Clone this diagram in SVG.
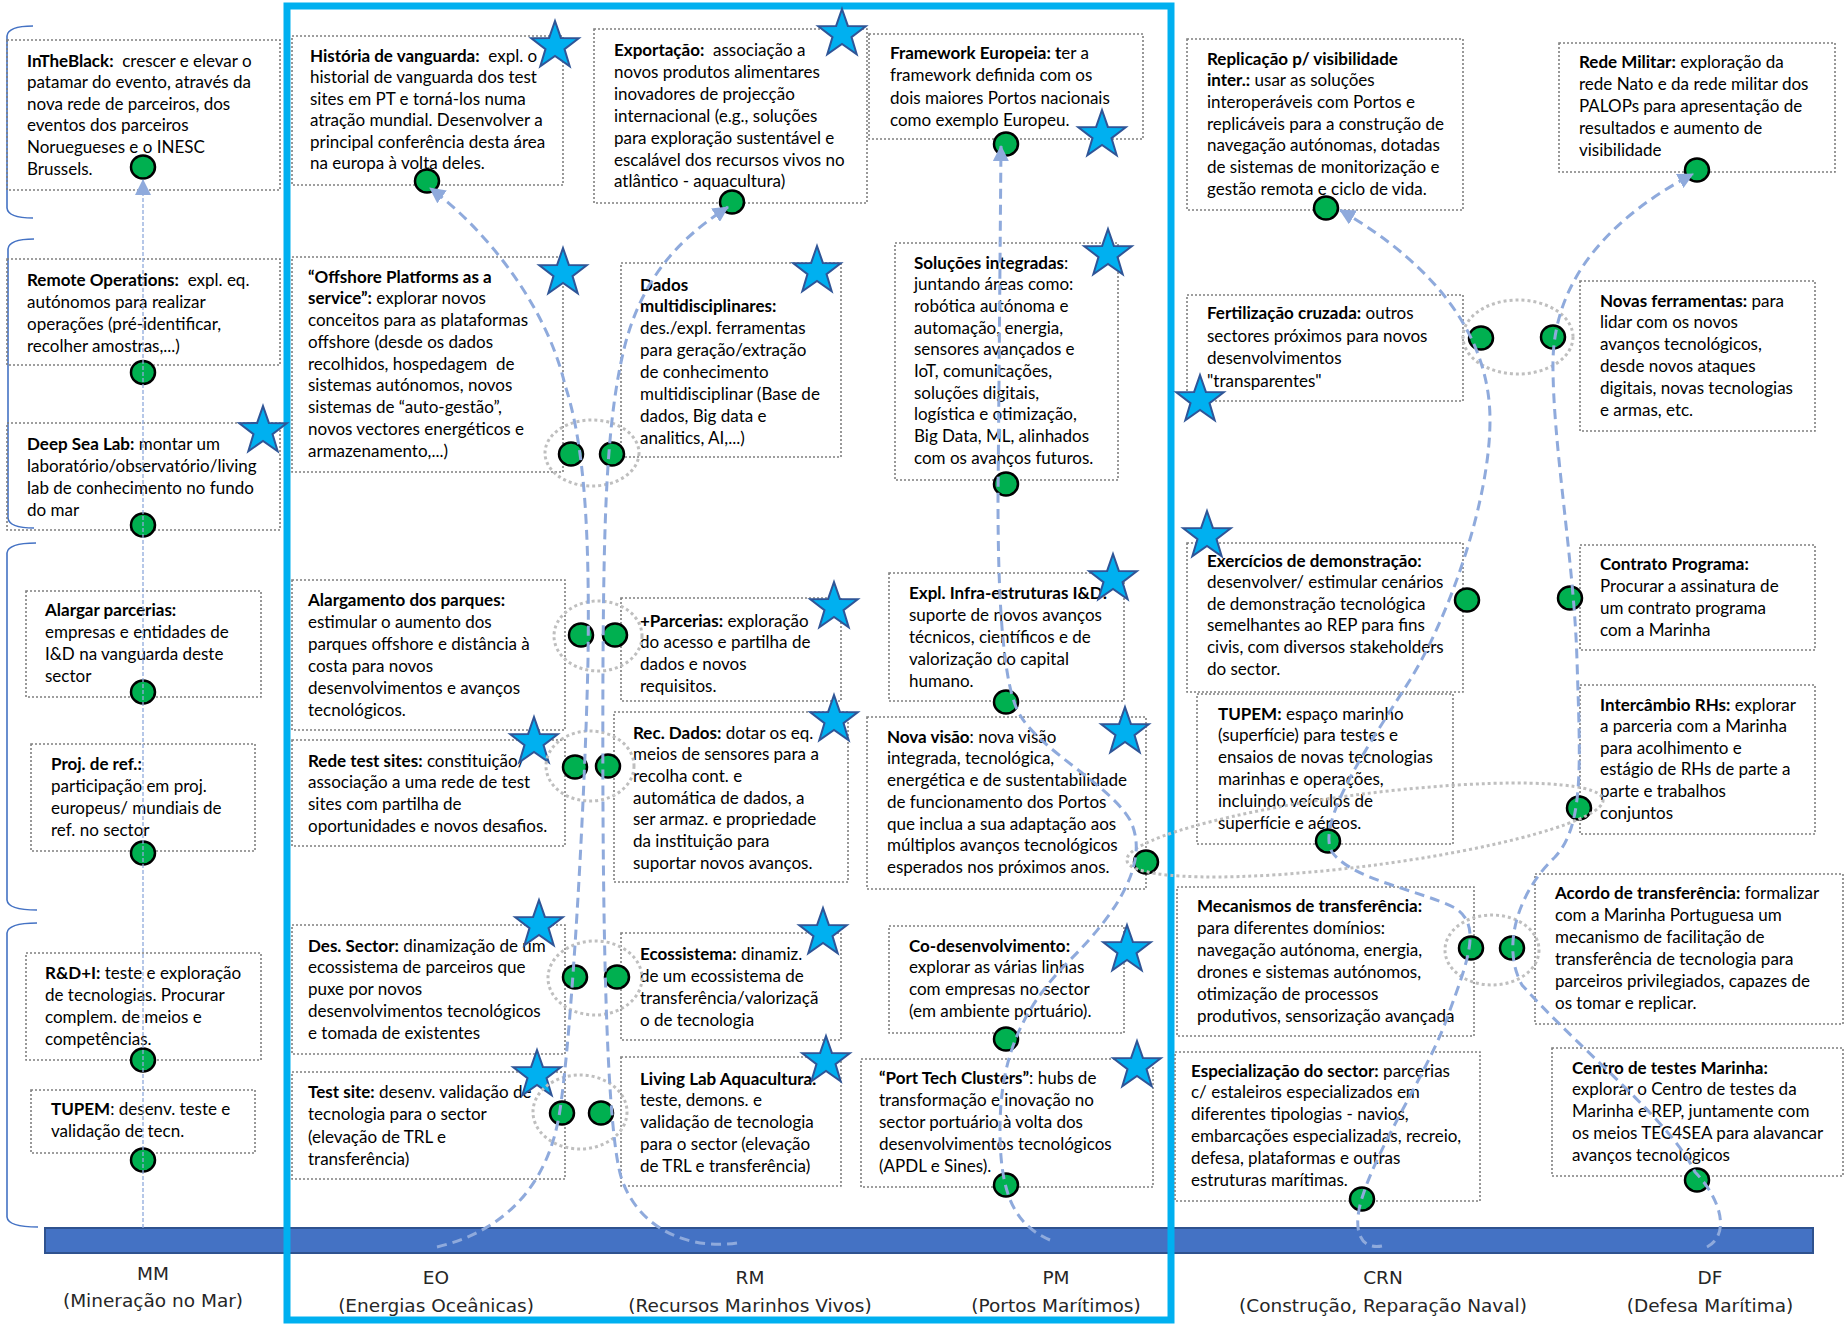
<svg xmlns="http://www.w3.org/2000/svg" xmlns:xlink="http://www.w3.org/1999/xlink" width="1845" height="1324" viewBox="0 0 1845 1324">
<style>
.box{fill:none;stroke:#7F7F7F;stroke-width:1.6;stroke-dasharray:2 2}
.t{font-family:Lato,"Liberation Sans",sans-serif;font-size:17px;fill:#000}
.b{font-weight:700}
.dot{fill:#00B050;stroke:#000;stroke-width:2.5}
.star{fill:#00B0F0;stroke:#2F5597;stroke-width:2}
.grp{fill:none;stroke:#BFBFBF;stroke-width:3;stroke-dasharray:3 3}
.conn{fill:none;stroke:#8FAADC;stroke-width:3;stroke-dasharray:10 6}
.thin{fill:none;stroke:#8FAADC;stroke-width:1.3;stroke-dasharray:4 2}
.brk{fill:none;stroke:#4472C4;stroke-width:1.6}
.lbl{font-family:"DejaVu Sans",Verdana,sans-serif;font-size:18.5px;fill:#262626;text-anchor:middle}
</style>
<defs>
<path id="star" d="M0,-25 L5.88,-8.09 L23.78,-7.73 L9.51,3.09 L14.69,20.23 L0,10 L-14.69,20.23 L-9.51,3.09 L-23.78,-7.73 L-5.88,-8.09 Z"/>
<marker id="arr" markerUnits="userSpaceOnUse" viewBox="0 0 16 16" refX="15" refY="8" markerWidth="16" markerHeight="16" orient="auto">
<path d="M0,0 L16,8 L0,16 Z" fill="#8FAADC"/>
</marker>
</defs>
<rect width="1845" height="1324" fill="#fff"/>

<!-- base bar and frame -->
<g id="base">
<rect x="45" y="1228" width="1768" height="25" fill="#4472C4" stroke="#2F528F" stroke-width="2"/>
<rect x="287" y="6" width="884" height="1314" fill="none" stroke="#00B0F0" stroke-width="7"/>
<path class="brk" d="M33,26 Q8,26 7,36 L7,208 Q8,218 33,218"/>
<path class="brk" d="M34,239 Q9,239 8,249 L8,518 Q9,528 34,528"/>
<path class="brk" d="M36,543 Q8,543 7,553 L7,900 Q8,910 37,910"/>
<path class="brk" d="M37,923 Q8,923 7,933 L7,1217 Q8,1227 38,1227"/>
</g>

<!-- sector labels -->
<g id="labels">
<text class="lbl" x="153" y="1280">MM</text><text class="lbl" x="153" y="1307">(Mineração no Mar)</text>
<text class="lbl" x="436" y="1284">EO</text><text class="lbl" x="436" y="1312">(Energias Oceânicas)</text>
<text class="lbl" x="750" y="1284">RM</text><text class="lbl" x="750" y="1312">(Recursos Marinhos Vivos)</text>
<text class="lbl" x="1056" y="1284">PM</text><text class="lbl" x="1056" y="1312">(Portos Marítimos)</text>
<text class="lbl" x="1383" y="1284">CRN</text><text class="lbl" x="1383" y="1312">(Construção, Reparação Naval)</text>
<text class="lbl" x="1710" y="1284">DF</text><text class="lbl" x="1710" y="1312">(Defesa Marítima)</text>
</g>

<!-- MM nodes -->
<g id="mm1"><rect class="box" x="7" y="40" width="273" height="150"/>
<text class="t" xml:space="preserve"><tspan x="27" y="66.5"><tspan class="b">InTheBlack:</tspan>  crescer e elevar o</tspan><tspan x="27" dy="21.6">patamar do evento, através da</tspan><tspan x="27" dy="21.6">nova rede de parceiros, dos</tspan><tspan x="27" dy="21.6">eventos dos parceiros</tspan><tspan x="27" dy="21.6">Noruegueses e o INESC</tspan><tspan x="27" dy="21.6">Brussels.</tspan></text>
<ellipse class="dot" cx="143" cy="167" rx="12" ry="11.5"/></g>
<g id="mm2"><rect class="box" x="7" y="259" width="273" height="106"/>
<text class="t" xml:space="preserve"><tspan x="27" y="285.5"><tspan class="b">Remote Operations:</tspan>  expl. eq.</tspan><tspan x="27" dy="22.3">autónomos para realizar</tspan><tspan x="27" dy="22.3">operações (pré-identificar,</tspan><tspan x="27" dy="22.3">recolher amostras,...)</tspan></text>
<ellipse class="dot" cx="143" cy="372.5" rx="12" ry="11.5"/></g>
<g id="mm3"><rect class="box" x="7" y="423" width="273" height="107"/>
<text class="t"><tspan x="27" y="449.5"><tspan class="b">Deep Sea Lab:</tspan> montar um</tspan><tspan x="27" dy="22">laboratório/observatório/living</tspan><tspan x="27" dy="22">lab de conhecimento no fundo</tspan><tspan x="27" dy="22">do mar</tspan></text>
<ellipse class="dot" cx="143" cy="525" rx="12" ry="11.5"/><use href="#star" class="star" x="263" y="431"/></g>
<g id="mm4"><rect class="box" x="26" y="591" width="235" height="106"/>
<text class="t"><tspan x="45" y="615.5" class="b">Alargar parcerias:</tspan><tspan x="45" dy="22.3">empresas e entidades de</tspan><tspan x="45" dy="22.3">I&amp;D na vanguarda deste</tspan><tspan x="45" dy="22.3">sector</tspan></text>
<ellipse class="dot" cx="143" cy="692" rx="12" ry="11.5"/></g>
<g id="mm5"><rect class="box" x="31" y="744" width="224" height="107"/>
<text class="t"><tspan x="51" y="769.5" class="b">Proj. de ref.:</tspan><tspan x="51" dy="22">participação em proj.</tspan><tspan x="51" dy="22">europeus/ mundiais de</tspan><tspan x="51" dy="22">ref. no sector</tspan></text>
<ellipse class="dot" cx="143" cy="853" rx="12" ry="11.5"/></g>
<g id="mm6"><rect class="box" x="26" y="953" width="235" height="107"/>
<text class="t"><tspan x="45" y="978.5"><tspan class="b">R&amp;D+I:</tspan> teste e exploração</tspan><tspan x="45" dy="22">de tecnologias. Procurar</tspan><tspan x="45" dy="22">complem. de meios e</tspan><tspan x="45" dy="22">competências.</tspan></text>
<ellipse class="dot" cx="143" cy="1060" rx="12" ry="11.5"/></g>
<g id="mm7"><rect class="box" x="31" y="1090" width="224" height="63"/>
<text class="t"><tspan x="51" y="1114.5"><tspan class="b">TUPEM</tspan>: desenv. teste e</tspan><tspan x="51" dy="22">validação de tecn.</tspan></text>
<ellipse class="dot" cx="143" cy="1160" rx="12" ry="11.5"/></g>

<!-- EO nodes -->
<g id="eo1"><rect class="box" x="292" y="36" width="271" height="149"/>
<text class="t" xml:space="preserve"><tspan x="310" y="61.5"><tspan class="b">História de vanguarda:</tspan>  expl. o</tspan><tspan x="310" dy="21.5">historial de vanguarda dos test</tspan><tspan x="310" dy="21.5">sites em PT e torná-los numa</tspan><tspan x="310" dy="21.5">atração mundial. Desenvolver a</tspan><tspan x="310" dy="21.5">principal conferência desta área</tspan><tspan x="310" dy="21.5">na europa à volta deles.</tspan></text>
<ellipse class="dot" cx="427" cy="181" rx="12" ry="11.5"/><use href="#star" class="star" x="555" y="46"/></g>
<g id="eo2"><rect class="box" x="292" y="257" width="271" height="215"/>
<text class="t" xml:space="preserve"><tspan x="308" y="282.5" class="b">“Offshore Platforms as a</tspan><tspan x="308" dy="21.75"><tspan class="b">service”:</tspan> explorar novos</tspan><tspan x="308" dy="21.75">conceitos para as plataformas</tspan><tspan x="308" dy="21.75">offshore (desde os dados</tspan><tspan x="308" dy="21.75">recolhidos, hospedagem  de</tspan><tspan x="308" dy="21.75">sistemas autónomos, novos</tspan><tspan x="308" dy="21.75">sistemas de “auto-gestão”,</tspan><tspan x="308" dy="21.75">novos vectores energéticos e</tspan><tspan x="308" dy="21.75">armazenamento,...)</tspan></text>
<ellipse class="dot" cx="571" cy="454" rx="12" ry="11.5"/><use href="#star" class="star" x="563" y="273"/></g>
<g id="eo3"><rect class="box" x="292" y="580" width="273" height="150"/>
<text class="t"><tspan x="308" y="605.5" class="b">Alargamento dos parques:</tspan><tspan x="308" dy="22">estimular o aumento dos</tspan><tspan x="308" dy="22">parques offshore e distância à</tspan><tspan x="308" dy="22">costa para novos</tspan><tspan x="308" dy="22">desenvolvimentos e avanços</tspan><tspan x="308" dy="22">tecnológicos.</tspan></text>
<ellipse class="dot" cx="581" cy="635" rx="12" ry="11.5"/></g>
<g id="eo4"><rect class="box" x="292" y="740" width="273" height="106"/>
<text class="t"><tspan x="308" y="766.5"><tspan class="b">Rede test sites:</tspan> constituição/</tspan><tspan x="308" dy="21.7">associação a uma rede de test</tspan><tspan x="308" dy="21.7">sites com partilha de</tspan><tspan x="308" dy="21.7">oportunidades e novos desafios.</tspan></text>
<ellipse class="dot" cx="575" cy="767" rx="12" ry="11.5"/><use href="#star" class="star" x="534" y="742"/></g>
<g id="eo5"><rect class="box" x="292" y="925" width="273" height="129"/>
<text class="t"><tspan x="308" y="951.5"><tspan class="b">Des. Sector:</tspan> dinamização de um</tspan><tspan x="308" dy="21.8">ecossistema de parceiros que</tspan><tspan x="308" dy="21.8">puxe por novos</tspan><tspan x="308" dy="21.8">desenvolvimentos tecnológicos</tspan><tspan x="308" dy="21.8">e tomada de existentes</tspan></text>
<ellipse class="dot" cx="575" cy="977" rx="12" ry="11.5"/><use href="#star" class="star" x="539" y="925"/></g>
<g id="eo6"><rect class="box" x="292" y="1072" width="273" height="107"/>
<text class="t"><tspan x="308" y="1097.5"><tspan class="b">Test site:</tspan> desenv. validação de</tspan><tspan x="308" dy="22.5">tecnologia para o sector</tspan><tspan x="308" dy="22.5">(elevação de TRL e</tspan><tspan x="308" dy="22.5">transferência)</tspan></text>
<ellipse class="dot" cx="562" cy="1113" rx="12" ry="11.5"/><use href="#star" class="star" x="537" y="1075"/></g>

<!-- RM nodes -->
<g id="rm1"><rect class="box" x="594" y="29" width="273" height="174"/>
<text class="t" xml:space="preserve"><tspan x="614" y="56"><tspan class="b">Exportação:</tspan>  associação a</tspan><tspan x="614" dy="21.9">novos produtos alimentares</tspan><tspan x="614" dy="21.9">inovadores de projecção</tspan><tspan x="614" dy="21.9">internacional (e.g., soluções</tspan><tspan x="614" dy="21.9">para exploração sustentável e</tspan><tspan x="614" dy="21.9">escalável dos recursos vivos no</tspan><tspan x="614" dy="21.9">atlântico - aquacultura)</tspan></text>
<ellipse class="dot" cx="732" cy="202" rx="12" ry="11.5"/><use href="#star" class="star" x="842" y="34"/></g>
<g id="rm2"><rect class="box" x="621" y="263" width="220" height="194"/>
<text class="t"><tspan x="640" y="290.5" class="b">Dados</tspan><tspan x="640" dy="21.9" class="b">multidisciplinares:</tspan><tspan x="640" dy="21.9">des./expl. ferramentas</tspan><tspan x="640" dy="21.9">para geração/extração</tspan><tspan x="640" dy="21.9">de conhecimento</tspan><tspan x="640" dy="21.9">multidisciplinar (Base de</tspan><tspan x="640" dy="21.9">dados, Big data e</tspan><tspan x="640" dy="21.9">analitics, AI,...)</tspan></text>
<ellipse class="dot" cx="612" cy="454" rx="12" ry="11.5"/><use href="#star" class="star" x="817" y="271"/></g>
<g id="rm3"><rect class="box" x="621" y="598" width="220" height="103"/>
<text class="t"><tspan x="640" y="626.5"><tspan class="b">+Parcerias:</tspan> exploração</tspan><tspan x="640" dy="21.8">do acesso e partilha de</tspan><tspan x="640" dy="21.8">dados e novos</tspan><tspan x="640" dy="21.8">requisitos.</tspan></text>
<ellipse class="dot" cx="615" cy="635" rx="12" ry="11.5"/><use href="#star" class="star" x="834" y="607"/></g>
<g id="rm4"><rect class="box" x="614" y="712" width="234" height="170"/>
<text class="t"><tspan x="633" y="738.5"><tspan class="b">Rec. Dados:</tspan> dotar os eq.</tspan><tspan x="633" dy="21.7">meios de sensores para a</tspan><tspan x="633" dy="21.7">recolha cont. e</tspan><tspan x="633" dy="21.7">automática de dados, a</tspan><tspan x="633" dy="21.7">ser armaz. e propriedade</tspan><tspan x="633" dy="21.7">da instituição para</tspan><tspan x="633" dy="21.7">suportar novos avanços.</tspan></text>
<ellipse class="dot" cx="608" cy="766" rx="12" ry="11.5"/><use href="#star" class="star" x="834" y="720"/></g>
<g id="rm5"><rect class="box" x="621" y="933" width="220" height="107"/>
<text class="t"><tspan x="640" y="959.5"><tspan class="b">Ecossistema:</tspan> dinamiz.</tspan><tspan x="640" dy="22">de um ecossistema de</tspan><tspan x="640" dy="22">transferência/valorizaçã</tspan><tspan x="640" dy="22">o de tecnologia</tspan></text>
<ellipse class="dot" cx="617" cy="977" rx="12" ry="11.5"/><use href="#star" class="star" x="823" y="933"/></g>
<g id="rm6"><rect class="box" x="621" y="1057" width="220" height="129"/>
<text class="t"><tspan x="640" y="1084.5" class="b">Living Lab Aquacultura:</tspan><tspan x="640" dy="21.8">teste, demons. e</tspan><tspan x="640" dy="21.8">validação de tecnologia</tspan><tspan x="640" dy="21.8">para o sector (elevação</tspan><tspan x="640" dy="21.8">de TRL e transferência)</tspan></text>
<ellipse class="dot" cx="601" cy="1113" rx="12" ry="11.5"/><use href="#star" class="star" x="826" y="1061"/></g>

<!-- PM nodes -->
<g id="pm1"><rect class="box" x="869" y="34" width="274" height="105"/>
<text class="t"><tspan x="890" y="58.5"><tspan class="b">Framework Europeia: t</tspan>er a</tspan><tspan x="890" dy="22.5">framework definida com os</tspan><tspan x="890" dy="22.5">dois maiores Portos nacionais</tspan><tspan x="890" dy="22.5">como exemplo Europeu.</tspan></text>
<ellipse class="dot" cx="1006" cy="144" rx="12" ry="11.5"/><use href="#star" class="star" x="1102" y="135"/></g>
<g id="pm2"><rect class="box" x="895" y="243" width="223" height="237"/>
<text class="t"><tspan x="914" y="268.5"><tspan class="b">Soluções integradas</tspan>:</tspan><tspan x="914" dy="21.7">juntando áreas como:</tspan><tspan x="914" dy="21.7">robótica autónoma e</tspan><tspan x="914" dy="21.7">automação, energia,</tspan><tspan x="914" dy="21.7">sensores avançados e</tspan><tspan x="914" dy="21.7">IoT, comunicações,</tspan><tspan x="914" dy="21.7">soluções digitais,</tspan><tspan x="914" dy="21.7">logística e otimização,</tspan><tspan x="914" dy="21.7">Big Data, ML, alinhados</tspan><tspan x="914" dy="21.7">com os avanços futuros.</tspan></text>
<ellipse class="dot" cx="1006" cy="484" rx="12" ry="11.5"/><use href="#star" class="star" x="1108" y="254"/></g>
<g id="pm3"><rect class="box" x="889" y="573" width="235" height="128"/>
<text class="t"><tspan x="909" y="598.5" class="b">Expl. Infra-estruturas I&amp;D:</tspan><tspan x="909" dy="22">suporte de novos avanços</tspan><tspan x="909" dy="22">técnicos, científicos e de</tspan><tspan x="909" dy="22">valorização do capital</tspan><tspan x="909" dy="22">humano.</tspan></text>
<ellipse class="dot" cx="1006" cy="702" rx="12" ry="11.5"/><use href="#star" class="star" x="1113" y="579"/></g>
<g id="pm4"><rect class="box" x="867" y="717" width="279" height="172"/>
<text class="t"><tspan x="887" y="742.5"><tspan class="b">Nova visão</tspan>: nova visão</tspan><tspan x="887" dy="21.75">integrada, tecnológica,</tspan><tspan x="887" dy="21.75">energética e de sustentabilidade</tspan><tspan x="887" dy="21.75">de funcionamento dos Portos</tspan><tspan x="887" dy="21.75">que inclua a sua adaptação aos</tspan><tspan x="887" dy="21.75">múltiplos avanços tecnológicos</tspan><tspan x="887" dy="21.75">esperados nos próximos anos.</tspan></text>
<ellipse class="dot" cx="1146" cy="862" rx="12" ry="11.5"/><use href="#star" class="star" x="1125" y="732"/></g>
<g id="pm5"><rect class="box" x="889" y="926" width="235" height="107"/>
<text class="t"><tspan x="909" y="951.5" class="b">Co-desenvolvimento:</tspan><tspan x="909" dy="21.8">explorar as várias linhas</tspan><tspan x="909" dy="21.8">com empresas no sector</tspan><tspan x="909" dy="21.8">(em ambiente portuário).</tspan></text>
<ellipse class="dot" cx="1006" cy="1039" rx="12" ry="11.5"/><use href="#star" class="star" x="1127" y="950"/></g>
<g id="pm6"><rect class="box" x="861" y="1059" width="292" height="128"/>
<text class="t"><tspan x="879" y="1083.5"><tspan class="b">“Port Tech Clusters”</tspan>: hubs de</tspan><tspan x="879" dy="22">transformação e inovação no</tspan><tspan x="879" dy="22">sector portuário à volta dos</tspan><tspan x="879" dy="22">desenvolvimentos tecnológicos</tspan><tspan x="879" dy="22">(APDL e Sines).</tspan></text>
<ellipse class="dot" cx="1006" cy="1185" rx="12" ry="11.5"/><use href="#star" class="star" x="1137" y="1066"/></g>

<!-- CRN nodes -->
<g id="crn1"><rect class="box" x="1187" y="39" width="276" height="171"/>
<text class="t"><tspan x="1207" y="64.5" class="b">Replicação p/ visibilidade</tspan><tspan x="1207" dy="21.7"><tspan class="b">inter.:</tspan> usar as soluções</tspan><tspan x="1207" dy="21.7">interoperáveis com Portos e</tspan><tspan x="1207" dy="21.7">replicáveis para a construção de</tspan><tspan x="1207" dy="21.7">navegação autónomas, dotadas</tspan><tspan x="1207" dy="21.7">de sistemas de monitorização e</tspan><tspan x="1207" dy="21.7">gestão remota e ciclo de vida.</tspan></text>
<ellipse class="dot" cx="1326" cy="208" rx="12" ry="11.5"/></g>
<g id="crn2"><rect class="box" x="1187" y="295" width="276" height="106"/>
<text class="t"><tspan x="1207" y="319"><tspan class="b">Fertilização cruzada:</tspan> outros</tspan><tspan x="1207" dy="22.5">sectores próximos para novos</tspan><tspan x="1207" dy="22.5">desenvolvimentos</tspan><tspan x="1207" dy="22.5">"transparentes"</tspan></text>
<ellipse class="dot" cx="1481" cy="338" rx="12" ry="11.5"/><use href="#star" class="star" x="1200" y="400"/></g>
<g id="crn3"><rect class="box" x="1187" y="543" width="276" height="149"/>
<text class="t"><tspan x="1207" y="566.5" class="b">Exercícios de demonstração:</tspan><tspan x="1207" dy="21.6">desenvolver/ estimular cenários</tspan><tspan x="1207" dy="21.6">de demonstração tecnológica</tspan><tspan x="1207" dy="21.6">semelhantes ao REP para fins</tspan><tspan x="1207" dy="21.6">civis, com diversos stakeholders</tspan><tspan x="1207" dy="21.6">do sector.</tspan></text>
<ellipse class="dot" cx="1467" cy="600" rx="12" ry="11.5"/><use href="#star" class="star" x="1207" y="536"/></g>
<g id="crn4"><rect class="box" x="1197" y="694" width="256" height="150"/>
<text class="t"><tspan x="1218" y="719.5"><tspan class="b">TUPEM:</tspan> espaço marinho</tspan><tspan x="1218" dy="21.8">(superfície) para testes e</tspan><tspan x="1218" dy="21.8">ensaios de novas tecnologias</tspan><tspan x="1218" dy="21.8">marinhas e operações,</tspan><tspan x="1218" dy="21.8">incluindo veículos de</tspan><tspan x="1218" dy="21.8">superfície e aéreos.</tspan></text>
<ellipse class="dot" cx="1328" cy="841" rx="12" ry="11.5"/></g>
<g id="crn5"><rect class="box" x="1177" y="887" width="297" height="149"/>
<text class="t"><tspan x="1197" y="911.5" class="b">Mecanismos de transferência:</tspan><tspan x="1197" dy="22">para diferentes domínios:</tspan><tspan x="1197" dy="22">navegação autónoma, energia,</tspan><tspan x="1197" dy="22">drones e sistemas autónomos,</tspan><tspan x="1197" dy="22">otimização de processos</tspan><tspan x="1197" dy="22">produtivos, sensorização avançada</tspan></text>
<ellipse class="dot" cx="1471" cy="948" rx="12" ry="11.5"/></g>
<g id="crn6"><rect class="box" x="1175" y="1052" width="305" height="149"/>
<text class="t"><tspan x="1191" y="1076.5"><tspan class="b">Especialização do sector:</tspan> parcerias</tspan><tspan x="1191" dy="21.8">c/ estaleiros especializados em</tspan><tspan x="1191" dy="21.8">diferentes tipologias - navios,</tspan><tspan x="1191" dy="21.8">embarcações especializadas, recreio,</tspan><tspan x="1191" dy="21.8">defesa, plataformas e outras</tspan><tspan x="1191" dy="21.8">estruturas marítimas.</tspan></text>
<ellipse class="dot" cx="1362" cy="1199" rx="12" ry="11.5"/></g>

<!-- DF nodes -->
<g id="df1"><rect class="box" x="1559" y="43" width="276" height="129"/>
<text class="t"><tspan x="1579" y="67.5"><tspan class="b">Rede Militar:</tspan> exploração da</tspan><tspan x="1579" dy="22">rede Nato e da rede militar dos</tspan><tspan x="1579" dy="22">PALOPs para apresentação de</tspan><tspan x="1579" dy="22">resultados e aumento de</tspan><tspan x="1579" dy="22">visibilidade</tspan></text>
<ellipse class="dot" cx="1697" cy="170" rx="12" ry="11.5"/></g>
<g id="df2"><rect class="box" x="1580" y="281" width="235" height="150"/>
<text class="t"><tspan x="1600" y="306.5"><tspan class="b">Novas ferramentas:</tspan> para</tspan><tspan x="1600" dy="21.8">lidar com os novos</tspan><tspan x="1600" dy="21.8">avanços tecnológicos,</tspan><tspan x="1600" dy="21.8">desde novos ataques</tspan><tspan x="1600" dy="21.8">digitais, novas tecnologias</tspan><tspan x="1600" dy="21.8">e armas, etc.</tspan></text>
<ellipse class="dot" cx="1553" cy="337" rx="12" ry="11.5"/></g>
<g id="df3"><rect class="box" x="1580" y="545" width="235" height="105"/>
<text class="t"><tspan x="1600" y="569.5" class="b">Contrato Programa:</tspan><tspan x="1600" dy="22.3">Procurar a assinatura de</tspan><tspan x="1600" dy="22.3">um contrato programa</tspan><tspan x="1600" dy="22.3">com a Marinha</tspan></text>
<ellipse class="dot" cx="1570" cy="598" rx="12" ry="11.5"/></g>
<g id="df4"><rect class="box" x="1580" y="685" width="235" height="149"/>
<text class="t"><tspan x="1600" y="710.5"><tspan class="b">Intercâmbio RHs:</tspan> explorar</tspan><tspan x="1600" dy="21.6">a parceria com a Marinha</tspan><tspan x="1600" dy="21.6">para acolhimento e</tspan><tspan x="1600" dy="21.6">estágio de RHs de parte a</tspan><tspan x="1600" dy="21.6">parte e trabalhos</tspan><tspan x="1600" dy="21.6">conjuntos</tspan></text>
<ellipse class="dot" cx="1579" cy="808" rx="12" ry="11.5"/></g>
<g id="df5"><rect class="box" x="1535" y="874" width="308" height="150"/>
<text class="t"><tspan x="1555" y="898.5"><tspan class="b">Acordo de transferência:</tspan> formalizar</tspan><tspan x="1555" dy="22">com a Marinha Portuguesa um</tspan><tspan x="1555" dy="22">mecanismo de facilitação de</tspan><tspan x="1555" dy="22">transferência de tecnologia para</tspan><tspan x="1555" dy="22">parceiros privilegiados, capazes de</tspan><tspan x="1555" dy="22">os tomar e replicar.</tspan></text>
<ellipse class="dot" cx="1512" cy="948" rx="12" ry="11.5"/></g>
<g id="df6"><rect class="box" x="1552" y="1048" width="291" height="128"/>
<text class="t"><tspan x="1572" y="1073.5" class="b">Centro de testes Marinha:</tspan><tspan x="1572" dy="21.9">explorar o Centro de testes da</tspan><tspan x="1572" dy="21.9">Marinha e REP, juntamente com</tspan><tspan x="1572" dy="21.9">os meios TEC4SEA para alavancar</tspan><tspan x="1572" dy="21.9">avanços tecnológicos</tspan></text>
<ellipse class="dot" cx="1697" cy="1180" rx="12" ry="11.5"/></g>

<!-- pairing outlines -->
<g id="pairings">
<ellipse class="grp" cx="592" cy="453" rx="47" ry="33"/>
<ellipse class="grp" cx="598" cy="636" rx="44" ry="35"/>
<ellipse class="grp" cx="590" cy="766" rx="44" ry="35"/>
<ellipse class="grp" cx="595" cy="978" rx="47" ry="37"/>
<ellipse class="grp" cx="580" cy="1112" rx="47" ry="37"/>
<ellipse class="grp" cx="1518" cy="337" rx="55" ry="37"/>
<ellipse class="grp" cx="1492" cy="950" rx="47" ry="35"/>
<ellipse class="grp" cx="1365" cy="830" rx="240" ry="36" transform="rotate(-7.3 1365 830)"/>
</g>

<!-- connectors -->
<g id="connectors">
<path class="thin" d="M143,1228 L143,180" marker-end="url(#arr)"/>
<path class="conn" d="M437,1247 C500,1232 548,1190 560,1110 C572,1030 585,800 588,660 C590,520 583,440 565,385 C545,300 480,225 430,188" marker-end="url(#arr)"/>
<path class="conn" d="M737,1243 C690,1250 640,1230 622,1180 C605,1130 602,900 603,660 C604,520 606,420 625,345 C645,268 690,232 728,207" marker-end="url(#arr)"/>
<path class="conn" d="M1050,1240 C1015,1225 1000,1195 1000,1130 C1000,1060 1020,1010 1070,960 C1120,910 1150,860 1130,820 C1110,785 1040,750 1020,715 C1003,688 998,600 998,500 L1001,146" marker-end="url(#arr)"/>
<path class="conn" d="M1382,1246 C1360,1250 1352,1230 1362,1198 C1380,1140 1430,1070 1450,1010 C1468,960 1482,925 1455,908 C1420,890 1352,880 1332,852 C1315,822 1372,740 1410,680 C1450,615 1490,500 1490,420 C1490,340 1440,268 1340,210" marker-end="url(#arr)"/>
<path class="conn" d="M1707,1247 C1730,1235 1722,1200 1695,1172 C1670,1120 1580,1050 1522,985 C1500,945 1520,890 1555,857 C1585,825 1580,760 1577,660 C1574,560 1552,440 1553,360 C1555,275 1615,215 1693,174" marker-end="url(#arr)"/>
</g>
</svg>
